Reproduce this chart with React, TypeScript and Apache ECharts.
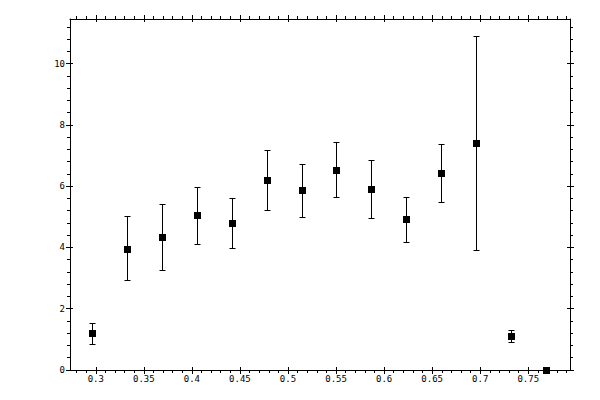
import React, { useEffect, useRef } from "react";
import * as echarts from "echarts";

// Data
const xValues = [0.2965, 0.3329, 0.3693, 0.4057, 0.4421, 0.4786, 0.5154, 0.5504, 0.5868, 0.6232, 0.6596, 0.6961, 0.7325, 0.7689];
const yValues = [1.19, 3.95, 4.33, 5.04, 4.78, 6.19, 5.86, 6.52, 5.89, 4.91, 6.42, 7.4, 1.09, 0.0];
const yLow = [0.83, 2.92, 3.25, 4.1, 3.97, 5.21, 4.99, 5.63, 4.95, 4.16, 5.48, 3.9, 0.9, 0.0];
const yHigh = [1.52, 5.02, 5.4, 5.95, 5.59, 7.16, 6.71, 7.43, 6.84, 5.63, 7.37, 10.89, 1.29, 0.0];

// Axis ticks
const xMajorTicks = [0.3, 0.35, 0.4, 0.45, 0.5, 0.55, 0.6, 0.65, 0.7, 0.75];
const xTickLabels = ["0.3", "0.35", "0.4", "0.45", "0.5", "0.55", "0.6", "0.65", "0.7", "0.75"];
const yMajorTicks = [0, 2, 4, 6, 8, 10];
const yTickLabels = ["0", "2", "4", "6", "8", "10"];
const xMinorTicks = Array.from({ length: 52 }, (_, i) => +(0.28 + i * 0.01).toFixed(2));
const yMinorTicks = Array.from({ length: 29 }, (_, i) => +(i * 0.4).toFixed(1));

const X_MIN = 0.2732;
const X_MAX = 0.7934;
const Y_MIN = 0;
const Y_MAX = 11.46;

const FONT = "DejaVu Sans Mono";
const BLACK = "#000";

function axis(
  kind: "x" | "y",
  position: string,
  opts: { line: boolean; inside: boolean; len: number; ticks: number[]; labels?: boolean }
) {
  const isX = kind === "x";
  const majors = isX ? xMajorTicks : yMajorTicks;
  const labels = isX ? xTickLabels : yTickLabels;
  return {
    type: "value",
    position,
    min: isX ? X_MIN : Y_MIN,
    max: isX ? X_MAX : Y_MAX,
    splitLine: { show: false },
    axisLine: { show: opts.line, onZero: false, lineStyle: { color: BLACK, width: 1 } },
    axisTick: {
      show: true,
      inside: opts.inside,
      length: opts.len,
      customValues: opts.ticks,
      lineStyle: { color: BLACK, width: 1 },
    },
    axisLabel: opts.labels
      ? {
          show: true,
          customValues: majors,
          formatter: (v: number) => {
            const i = majors.findIndex((m) => Math.abs(m - v) < 1e-9);
            return i >= 0 ? labels[i] : "";
          },
          color: BLACK,
          fontFamily: FONT,
          fontSize: 9,
          margin: isX ? 4 : 5,
        }
      : { show: false },
  };
}

const snap = (v: number) => Math.round(v - 0.5) + 0.5;

export default function App() {
  const ref = useRef<HTMLDivElement>(null);

  useEffect(() => {
    if (!ref.current) return;
    const chart = echarts.init(ref.current, null, { renderer: "svg" });

    const errData = xValues.map((x, i) => [x, yLow[i], yHigh[i]]);
    const ptData = xValues.map((x, i) => [x, yValues[i]]);

    chart.setOption({
      animation: false,
      backgroundColor: "#fff",
      grid: {
        left: 70,
        right: 30,
        top: 19,
        bottom: 30,
        containLabel: false,
        outerBoundsMode: "none",
      },
      xAxis: [
        axis("x", "bottom", { line: true, inside: false, len: 4, ticks: xMajorTicks, labels: true }),
        axis("x", "bottom", { line: false, inside: true, len: 3, ticks: xMajorTicks }),
        axis("x", "bottom", { line: false, inside: false, len: 3, ticks: xMinorTicks }),
        axis("x", "top", { line: true, inside: false, len: 4, ticks: xMajorTicks }),
        axis("x", "top", { line: false, inside: true, len: 3, ticks: xMajorTicks }),
        axis("x", "top", { line: false, inside: false, len: 3, ticks: xMinorTicks }),
      ],
      yAxis: [
        axis("y", "left", { line: true, inside: false, len: 4, ticks: yMajorTicks, labels: true }),
        axis("y", "left", { line: false, inside: true, len: 3, ticks: yMajorTicks }),
        axis("y", "left", { line: false, inside: false, len: 3, ticks: yMinorTicks }),
        axis("y", "right", { line: true, inside: false, len: 4, ticks: yMajorTicks }),
        axis("y", "right", { line: false, inside: true, len: 3, ticks: yMajorTicks }),
        axis("y", "right", { line: false, inside: false, len: 3, ticks: yMinorTicks }),
      ],
      series: [
        {
          name: "error",
          type: "custom",
          xAxisIndex: 0,
          yAxisIndex: 0,
          z: 2,
          clip: false,
          data: errData,
          encode: { x: 0, y: [1, 2] },
          renderItem: (_params: any, api: any) => {
            const x = api.value(0);
            const lo = api.value(1);
            const hi = api.value(2);
            if (!(hi > lo)) return { type: "group", children: [] };
            const top = api.coord([x, hi]);
            const bot = api.coord([x, lo]);
            const cx = snap(top[0]);
            const ty = snap(top[1]);
            const by = snap(bot[1]);
            const hw = 3;
            const style = { stroke: BLACK, lineWidth: 1 };
            return {
              type: "group",
              children: [
                { type: "line", shape: { x1: cx, y1: ty, x2: cx, y2: by }, style },
                { type: "line", shape: { x1: cx - hw, y1: ty, x2: cx + hw, y2: ty }, style },
                { type: "line", shape: { x1: cx - hw, y1: by, x2: cx + hw, y2: by }, style },
              ],
            };
          },
        },
        {
          name: "value",
          type: "custom",
          xAxisIndex: 0,
          yAxisIndex: 0,
          z: 3,
          clip: false,
          data: ptData,
          encode: { x: 0, y: 1 },
          renderItem: (_params: any, api: any) => {
            const p = api.coord([api.value(0), api.value(1)]);
            const x0 = Math.round(p[0] - 3.5);
            const y0 = Math.round(p[1] - 3.5);
            return {
              type: "rect",
              shape: { x: x0, y: y0, width: 7, height: 7 },
              style: { fill: BLACK },
            };
          },
        },
      ],
    });

    return () => chart.dispose();
  }, []);

  return (
    <div
      ref={ref}
      style={{ position: "absolute", left: 0, top: 0, width: 600, height: 400, background: "#fff" }}
    />
  );
}
